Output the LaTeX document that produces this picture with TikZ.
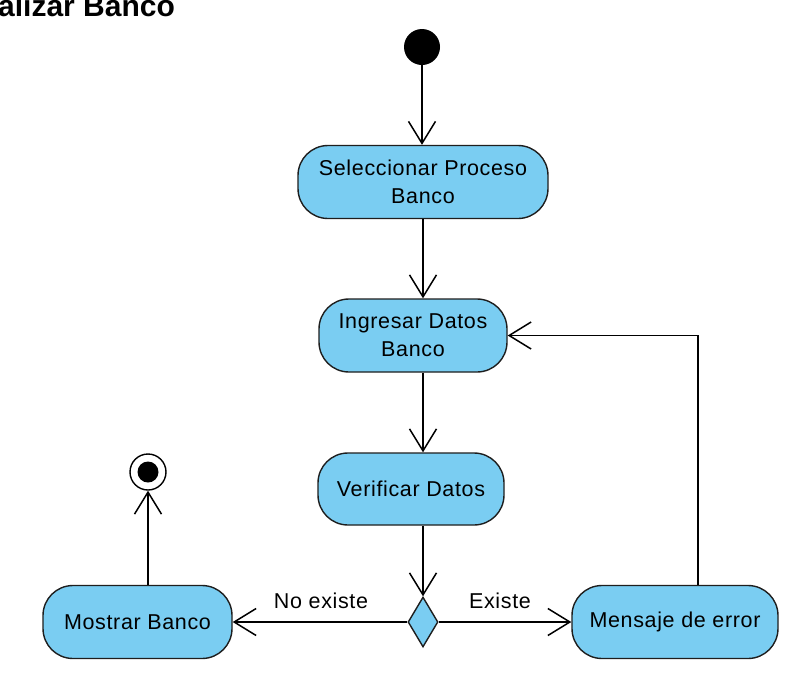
\documentclass[tikz,border=0pt]{standalone}
\usepackage{fontspec}
\setmainfont{Liberation Sans}
\newfontfamily\vpfont[LetterSpace=3]{Liberation Sans}
\usetikzlibrary{arrows.meta,shapes.geometric}
\definecolor{actfill}{RGB}{122,205,242}
\definecolor{actline}{RGB}{30,30,30}
\tikzset{
  act/.style={draw=actline, line width=1.4pt, fill=actfill, rounded corners=30pt,
    minimum width=#1, minimum height=73pt, inner sep=0pt, align=center,
    font=\vpfont\fontsize{21.5}{28}\selectfont},
  act/.default=188pt,
  flow/.style={draw=black, line width=1.5pt,
    -{Straight Barb[length=22pt,width=27pt,line width=1.5pt]}},
  lbl/.style={font=\vpfont\fontsize{21.5}{26}\selectfont, inner sep=0pt},
}
\begin{document}
\begin{tikzpicture}[x=1pt,y=-1pt]
\useasboundingbox (0,0) rectangle (801,681);
\clip (0,0) rectangle (801,681);
\fill[white] (0,0) rectangle (801,681);
% title (clipped at top, as in the reference)
\node[anchor=base west, inner sep=0pt, font=\bfseries\fontsize{30}{34}\selectfont] (title) at (-2,16) {alizar Banco};
% nodes
\node[circle, fill=black, minimum size=36pt, inner sep=0pt] (init) at (422,47) {};
\node[act=250pt] (sel) at (423,182) {Seleccionar Proceso\\Banco};
\node[act=188pt] (ing) at (413,335.5) {Ingresar Datos\\Banco};
\node[act=186pt, minimum height=72pt] (ver) at (411,489) {Verificar Datos};
\node[diamond, draw=actline, line width=1.4pt, fill=actfill, minimum width=30pt, minimum height=50pt, inner sep=0pt, aspect=0.6] (dec) at (423,622) {};
\node[act=206pt] (msg) at (675,622) {Mensaje de error};
\node[act=189pt] (mos) at (137.5,622) {Mostrar Banco};
\node[circle, draw=black, line width=1.4pt, fill=white, minimum size=36pt, inner sep=0pt] (fin) at (148,472) {};
\node[circle, fill=black, minimum size=21pt, inner sep=0pt] (finin) at (fin.center) {};
\coordinate (ret) at (698,0);
% connectors
\draw[flow] (init) -- (init |- sel.north);
\draw[flow] (sel.south) -- (sel.south |- ing.north);
\draw[flow] (ing.south -| dec) -- (ver.north -| dec);
\draw[flow] (ver.south -| dec) -- (dec.north);
\draw[flow] (dec.west) -- (mos.east);
\draw[flow] (dec.east) -- (msg.west);
\draw[flow] (msg.north -| ret) |- (ing.east);
\draw[flow] (mos.north -| fin) -- (fin.south);
% labels
\node[lbl] (lno) at (321,601) {No existe};
\node[lbl] (lsi) at (500,601) {Existe};
\end{tikzpicture}
\end{document}
